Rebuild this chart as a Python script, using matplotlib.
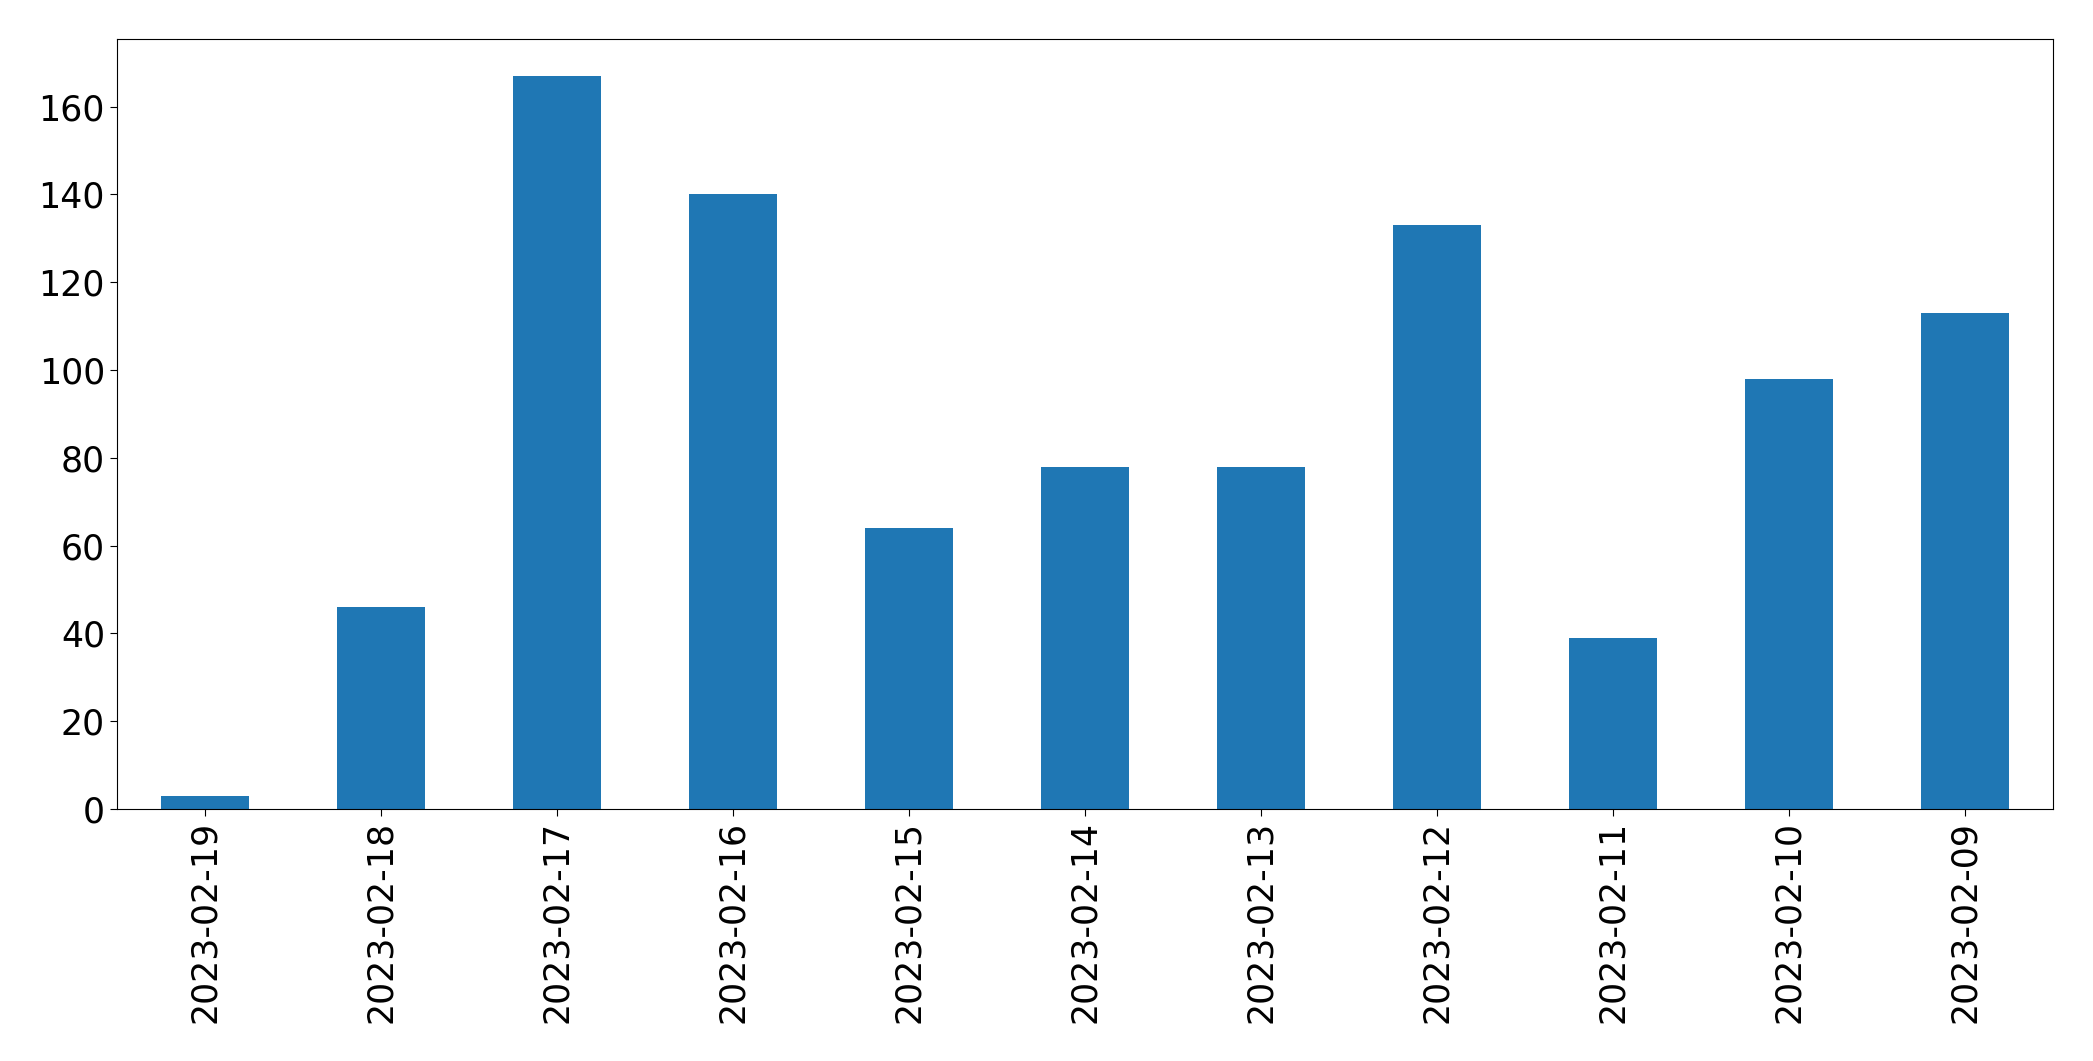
import matplotlib
matplotlib.use("Agg")
import matplotlib.pyplot as plt

# ---------------- Data ----------------
dates = ["2023-02-19", "2023-02-18", "2023-02-17", "2023-02-16", "2023-02-15",
         "2023-02-14", "2023-02-13", "2023-02-12", "2023-02-11", "2023-02-10",
         "2023-02-09"]
counts = [3, 46, 167, 140, 64, 78, 78, 133, 39, 98, 113]

# ---------------- Plot ----------------
fig = plt.figure(figsize=(20.93, 10.61), dpi=100)
ax = fig.add_axes([0.0558, 0.2375, 0.925, 0.7255])

pos = range(len(dates))
ax.bar(pos, counts, width=0.5, color="#1f77b4")
ax.set_xlim(-0.5, len(dates) - 0.5)
ax.set_xticks(list(pos))
ax.set_xticklabels(dates, rotation=90)
ax.tick_params(axis="both", labelsize=25, length=5)

fig.savefig("out.png", dpi=100)
